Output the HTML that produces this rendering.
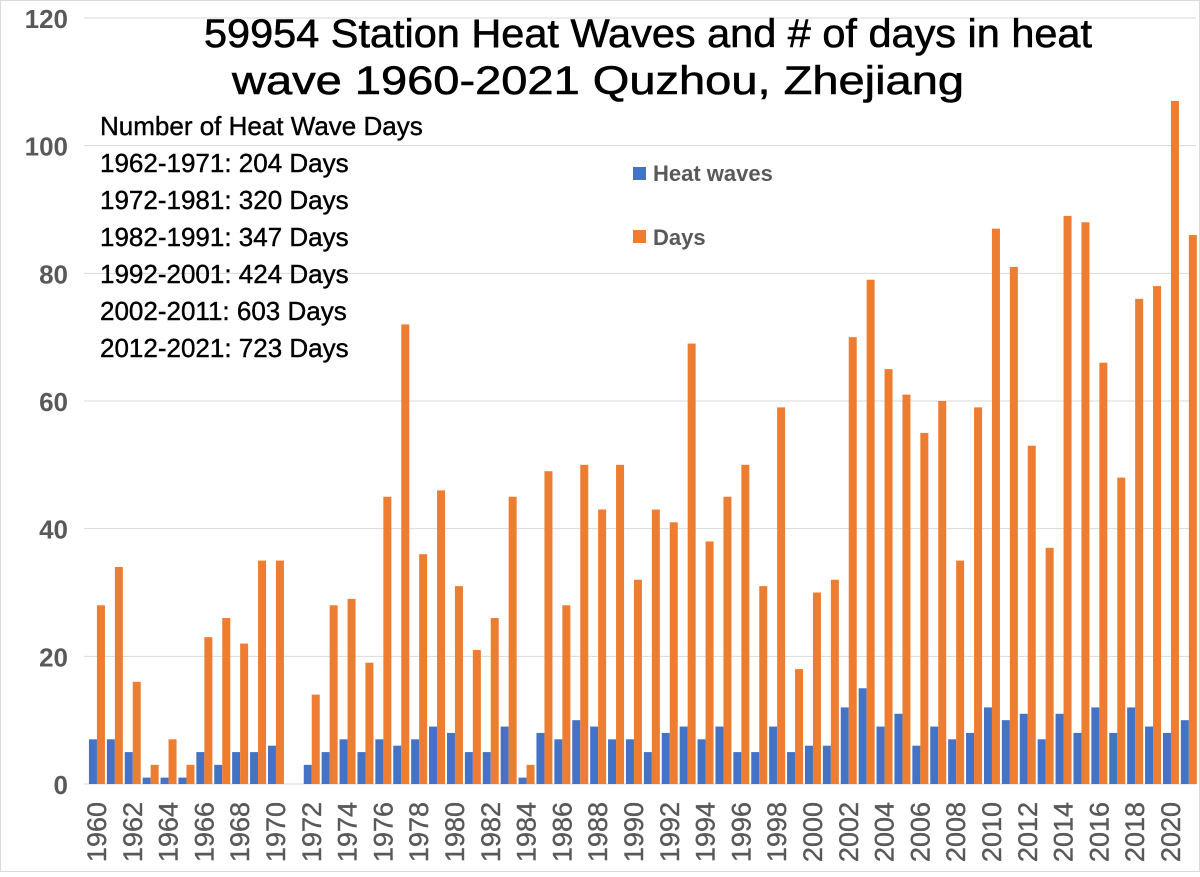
<!DOCTYPE html>
<html><head><meta charset="utf-8"><style>
body{margin:0;background:#fff;}
svg text{font-family:"Liberation Sans",Arial,sans-serif;}
</style></head><body>
<svg id="chart" width="1200" height="872" xmlns="http://www.w3.org/2000/svg">
<rect x="0.5" y="0.5" width="1199" height="871" fill="#fff" stroke="#d9d9d9"/>
<g id="grid"></g>
<g id="bars"></g>
<g id="ylabels"></g>
<g id="xlabels"></g>
<text x="648" y="47" font-size="40" text-anchor="middle" fill="#000" stroke="#000" stroke-width="0.6" textLength="888" lengthAdjust="spacingAndGlyphs">59954 Station Heat Waves and # of days in heat</text>
<text x="598" y="94" font-size="40" text-anchor="middle" fill="#000" stroke="#000" stroke-width="0.6" textLength="732" lengthAdjust="spacingAndGlyphs">wave 1960-2021  Quzhou, Zhejiang</text>
<g font-size="26" fill="#000" stroke="#000" stroke-width="0.4">
<text x="100" y="135">Number of Heat Wave Days</text>
<text x="100" y="172">1962-1971: 204 Days</text>
<text x="100" y="209">1972-1981: 320 Days</text>
<text x="100" y="246">1982-1991: 347 Days</text>
<text x="100" y="283">1992-2001: 424 Days</text>
<text x="100" y="320">2002-2011: 603 Days</text>
<text x="100" y="357">2012-2021: 723 Days</text>
</g>
<rect x="633" y="167" width="13" height="13" fill="#4472C4"/>
<text x="653" y="181" font-size="22" font-weight="bold" fill="#595959">Heat waves</text>
<rect x="633" y="230" width="13" height="13" fill="#ED7D31"/>
<text x="653" y="245" font-size="22" font-weight="bold" fill="#595959">Days</text>
</svg>
<script>
const years=[];for(let y=1960;y<=2021;y++)years.push(y);
const heatWaves=[7,7,5,1,1,1,5,3,5,5,6,0,3,5,7,5,7,6,7,9,8,5,5,9,1,8,7,10,9,7,7,5,8,9,7,9,5,5,9,5,6,6,12,15,9,11,6,9,7,8,12,10,11,7,11,8,12,8,12,9,8,10];
const days=[28,34,16,3,7,3,23,26,22,35,35,0,14,28,29,19,45,72,36,46,31,21,26,45,3,49,28,50,43,50,32,43,41,69,38,45,50,31,59,18,30,32,70,79,65,61,55,60,35,59,87,81,53,37,89,88,66,48,76,78,107,86];
const yTicks=[0,20,40,60,80,100,120];
const NS='http://www.w3.org/2000/svg';
const x0=84,pitch=17.9,bw=8,yBase=784,yTop=18,yMax=120;
const yScale=v=>yBase-v/yMax*(yBase-yTop);
const xCenter=i=>x0+pitch*(i+0.5)+4;
function mk(tag,attrs,parent){const e=document.createElementNS(NS,tag);for(const k in attrs)e.setAttribute(k,attrs[k]);parent.appendChild(e);return e;}
const grid=document.getElementById('grid'),bars=document.getElementById('bars'),yl=document.getElementById('ylabels'),xl=document.getElementById('xlabels');
yTicks.forEach(t=>{
 const l=mk('line',{x1:x0,x2:1196,y1:yScale(t),y2:yScale(t),stroke:'#d9d9d9','stroke-width':1},grid);
 
 
 const tx=mk('text',{x:68,y:yScale(t)+10,'font-size':26,'font-weight':'bold','text-anchor':'end',fill:'#595959'},yl);
 tx.textContent=t;
 
 
});
years.forEach((yr,i)=>{
 const c=xCenter(i);
 const b=mk('rect',{x:c-bw,y:yScale(heatWaves[i]),width:bw,height:yBase-yScale(heatWaves[i]),fill:'#4472C4'},bars);
 
 
 const o=mk('rect',{x:c,y:yScale(days[i]),width:bw,height:yBase-yScale(days[i]),fill:'#ED7D31'},bars);
 
 
 if(i%2===0){
  const t=mk('text',{x:0,y:0,'font-size':27,fill:'#595959',stroke:'#595959','stroke-width':0.4,'text-anchor':'end',transform:`translate(${c+9},${802}) rotate(-90)`},xl);
  t.textContent=yr;
  
  
 }
});
</script>
</body></html>
